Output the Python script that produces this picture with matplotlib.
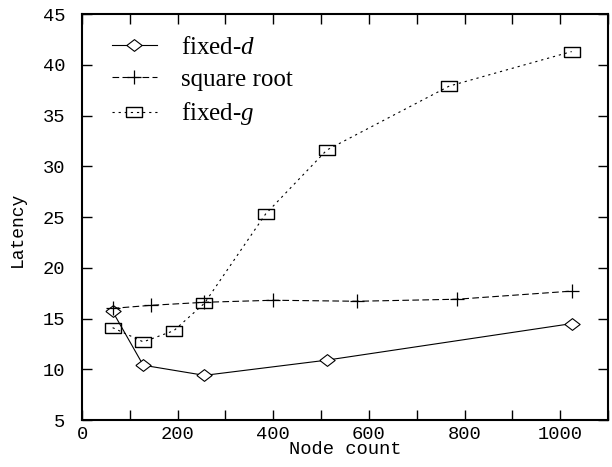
import matplotlib
matplotlib.use("Agg")
import matplotlib.pyplot as plt
from matplotlib.ticker import MultipleLocator

fixed_d_x = [64, 128, 256, 512, 1024]
fixed_d_y = [15.7, 10.4, 9.4, 10.9, 14.5]
sqrt_x = [64, 144, 256, 400, 576, 784, 1024]
sqrt_y = [16.0, 16.3, 16.6, 16.8, 16.7, 16.9, 17.7]
fixed_g_x = [64, 128, 192, 256, 384, 512, 768, 1024]
fixed_g_y = [14.1, 12.7, 13.8, 16.5, 25.3, 31.6, 37.9, 41.3]

plt.rcParams["mathtext.fontset"] = "custom"
plt.rcParams["mathtext.it"] = "Liberation Serif:italic"
plt.rcParams["mathtext.rm"] = "Liberation Serif"

fig = plt.figure(figsize=(6.12, 4.67), dpi=100)
ax = fig.add_axes([0.134, 0.1006, 0.8595, 0.8694])

diamond = [(-1.3, 0), (0, 1), (1.3, 0), (0, -1), (-1.3, 0)]
rect = [(-1.4, -1), (1.4, -1), (1.4, 1), (-1.4, 1), (-1.4, -1)]

mono = "Liberation Mono"
ax.plot(fixed_d_x, fixed_d_y, color="black", lw=0.8, marker=diamond, markersize=11,
        markerfacecolor="white", markeredgewidth=0.8, label=r"fixed-$d$")
ax.plot(sqrt_x, sqrt_y, color="black", lw=0.8, marker="+", markersize=10,
        markeredgewidth=0.9, dashes=(6, 3), label="square root")
ax.plot(fixed_g_x, fixed_g_y, color="black", lw=0.8, marker=rect, markersize=11,
        markerfacecolor="none", markeredgewidth=1.0, dashes=(2, 3.5), label=r"fixed-$g$")

ax.set_xlim(0, 1100)
ax.set_ylim(5, 45)
ax.xaxis.set_major_locator(MultipleLocator(200))
ax.xaxis.set_minor_locator(MultipleLocator(100))
ax.yaxis.set_major_locator(MultipleLocator(5))
ax.tick_params(which="both", direction="in", top=True, right=True, length=7, width=1)
ax.tick_params(which="major", labelsize=13.5)
ax.tick_params(axis="y", pad=12)
ax.tick_params(axis="x", pad=4)
for lab in ax.get_xticklabels() + ax.get_yticklabels():
    lab.set_fontfamily(mono)
for s in ax.spines.values():
    s.set_linewidth(1.5)

ax.set_xlabel("Node count", fontfamily=mono, fontsize=13.5, labelpad=-1)
ax.set_ylabel("Latency", fontfamily=mono, fontsize=13)
ax.yaxis.set_label_coords(-0.106, 0.47)

leg = ax.legend(loc="upper left", frameon=False,
                prop={"family": "Liberation Serif", "size": 18},
                handlelength=1.8, handletextpad=0.95, labelspacing=0.38,
                borderpad=0, borderaxespad=0,
                bbox_to_anchor=(0.057, 0.945))

fig.savefig("out.png", dpi=100)
